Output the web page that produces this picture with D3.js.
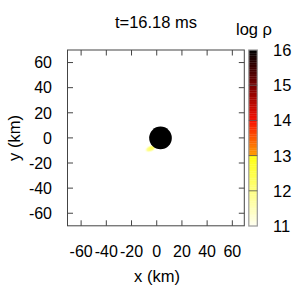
<!DOCTYPE html>
<html><head><meta charset="utf-8">
<script src="https://cdn.jsdelivr.net/npm/d3@7/dist/d3.min.js"></script>
<style>body{margin:0;background:#fff}svg{display:block}text{font-family:"Liberation Sans",Arial,sans-serif;fill:#000}</style>
</head><body><svg id="c" width="300" height="296"></svg>
<script>
const title = "t=16.18 ms";
const xTicks = [-60,-40,-20,0,20,40,60];
const yTicks = [-60,-40,-20,0,20,40,60];
const cbTicks = [11,12,13,14,15,16];
// density features (km, log rho)
const blobX = [3, -6.5];
const blobY = [0, -9.2];
const blobRx = [9, 5.4];
const blobRy = [9, 2.8];
const blobRot = [0, -22];
const blobLogRho = [16, 12.5];
// colour palette stops (log rho)
const palVals = [11, 12, 12.99, 13, 14, 15, 16];
const palCols = ["#fffff2", "#ffff80", "#ffff10", "#ffa000", "#f81000", "#780000", "#000000"];

const svg = d3.select("#c");
const x = d3.scaleLinear().domain([-70.8, 69.5]).range([67.5, 244.3]);
const y = d3.scaleLinear().domain([-70, 70]).range([225.8, 50]);
const color = d3.scaleLinear().domain(palVals).range(palCols).clamp(true);
const cb = d3.scaleLinear().domain([11, 16]).range([226, 50]);

const defs = svg.append("defs");
defs.append("clipPath").attr("id","pc").append("rect")
  .attr("x", x.range()[0]).attr("y", y.range()[1])
  .attr("width", x.range()[1]-x.range()[0]).attr("height", y.range()[0]-y.range()[1]);
defs.append("filter").attr("id","blur").attr("x","-50%").attr("y","-50%").attr("width","200%").attr("height","200%")
  .append("feGaussianBlur").attr("stdDeviation", 0.7);
const gr = defs.append("radialGradient").attr("id","g1").attr("cx","68%").attr("fx","72%");
gr.append("stop").attr("offset","0%").attr("stop-color", color(blobLogRho[1])).attr("stop-opacity",1);
gr.append("stop").attr("offset","60%").attr("stop-color", color(12)).attr("stop-opacity",0.9);
gr.append("stop").attr("offset","100%").attr("stop-color", color(11)).attr("stop-opacity",0);

const plot = svg.append("g").attr("clip-path","url(#pc)");
const kmPx = x(1)-x(0);
[1,0].forEach(i=>{
  const g = plot.append("g").attr("transform",`translate(${x(blobX[i])},${y(blobY[i])}) rotate(${blobRot[i]})`);
  if (i===0) {
    g.append("ellipse").attr("rx", blobRx[i]*kmPx).attr("ry", blobRy[i]*kmPx).attr("fill", color(blobLogRho[i]));
  } else {
    g.append("ellipse").attr("rx", blobRx[i]*kmPx).attr("ry", blobRy[i]*kmPx).attr("fill","url(#g1)").attr("filter","url(#blur)");
  }
});

// frame
const fg = "#444";
svg.append("rect").attr("x", x.range()[0]).attr("y", y.range()[1])
  .attr("width", x.range()[1]-x.range()[0]).attr("height", y.range()[0]-y.range()[1])
  .attr("fill","none").attr("stroke",fg).attr("stroke-width",1);
const tl = 5.5;
xTicks.forEach(t=>{
  svg.append("line").attr("x1",x(t)).attr("x2",x(t)).attr("y1",y.range()[0]).attr("y2",y.range()[0]-tl).attr("stroke",fg);
  svg.append("line").attr("x1",x(t)).attr("x2",x(t)).attr("y1",y.range()[1]).attr("y2",y.range()[1]+tl).attr("stroke",fg);
  svg.append("text").attr("x",x(t)).attr("y",256.5).attr("text-anchor","middle").attr("font-size",16).text(t);
});
yTicks.forEach(t=>{
  svg.append("line").attr("x1",x.range()[0]).attr("x2",x.range()[0]+tl).attr("y1",y(t)).attr("y2",y(t)).attr("stroke",fg);
  svg.append("line").attr("x1",x.range()[1]).attr("x2",x.range()[1]-tl).attr("y1",y(t)).attr("y2",y(t)).attr("stroke",fg);
  svg.append("text").attr("x",52).attr("y",y(t)).attr("dy","0.36em").attr("text-anchor","end").attr("font-size",16).text(t);
});
svg.append("text").attr("x",157).attr("y",282).attr("text-anchor","middle").attr("font-size",16.5).text("x (km)");
svg.append("text").attr("transform","translate(20,138) rotate(-90)").attr("text-anchor","middle").attr("font-size",16.5).text("y (km)");
svg.append("text").attr("x",156).attr("y",28).attr("text-anchor","middle").attr("font-size",16.5).text(title);
svg.append("text").attr("x",254).attr("y",35).attr("text-anchor","middle").attr("font-size",16.5).text("log ρ");

// colorbar
const cbx0 = 248.8, cbw = 8.5;
svg.append("g").selectAll("rect").data(d3.range(11, 16, 0.05)).join("rect")
  .attr("x", cbx0).attr("width", cbw)
  .attr("y", d=>cb(d+0.05)).attr("height", d=>cb(d)-cb(d+0.05)+0.3)
  .attr("fill", d=>color(d+0.025));
svg.append("rect").attr("x",cbx0).attr("y",cb(16)).attr("width",cbw).attr("height",cb(11)-cb(16))
  .attr("fill","none").attr("stroke","#999").attr("stroke-width",1.2);
cbTicks.forEach(t=>{
  if (t>11 && t<16) svg.append("line").attr("x1",cbx0).attr("x2",cbx0+cbw).attr("y1",cb(t)).attr("y2",cb(t)).attr("stroke","#555").attr("stroke-opacity",0.8);
  svg.append("text").attr("x",273).attr("y",cb(t)).attr("dy","0.36em").attr("font-size",16.5).text(t);
});
</script></body></html>
